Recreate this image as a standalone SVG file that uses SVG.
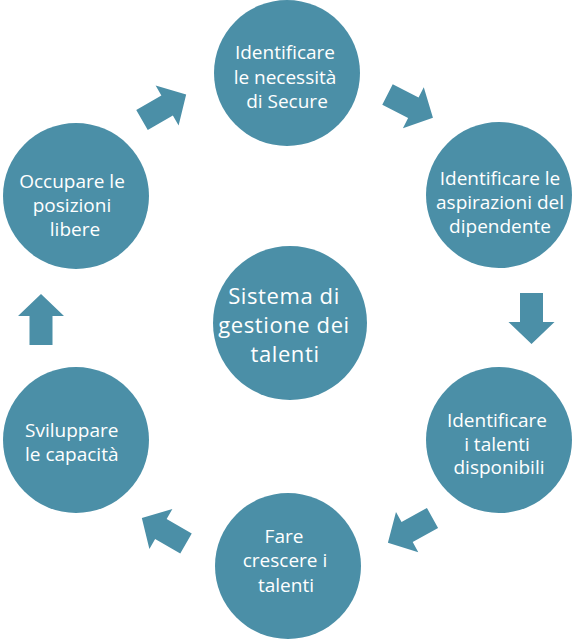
<svg xmlns="http://www.w3.org/2000/svg" width="574" height="639" viewBox="0 0 574 639">
<style>
.c{fill:#4b8fa7}
.t{fill:#ffffff;font-family:"Open Sans","Noto Sans",sans-serif;font-size:19px;text-anchor:middle}
.big{font-size:22px;letter-spacing:0.6px}
.a{fill:#4b8fa7}
</style>
<defs>
<path id="arr" d="M0,-11.5 L29,-11.5 L29,-23 L51,0 L29,23 L29,11.5 L0,11.5 Z"/>
</defs>
<rect width="574" height="639" fill="#ffffff"/>
<g id="connectors" class="a">
<use href="#arr" transform="translate(142,120) rotate(-30)"/>
<use href="#arr" transform="translate(387.5,94.5) rotate(27)"/>
<use href="#arr" transform="translate(531.5,293) rotate(90)"/>
<use href="#arr" transform="translate(432.5,518) rotate(151)"/>
<use href="#arr" transform="translate(186,543.5) rotate(210)"/>
<use href="#arr" transform="translate(41,345) rotate(-90)"/>
</g>
<g id="node-top">
<circle class="c" cx="287" cy="73" r="73"/>
<text class="t"><tspan x="285" y="59">Identificare</tspan><tspan x="285" y="84">le necessità</tspan><tspan x="287" y="108">di Secure</tspan></text>
</g>
<g id="node-right-top">
<circle class="c" cx="499" cy="195" r="73"/>
<text class="t"><tspan x="500" y="185">Identificare le</tspan><tspan x="500" y="209">aspirazioni del</tspan><tspan x="500" y="233">dipendente</tspan></text>
</g>
<g id="node-right-bottom">
<circle class="c" cx="499" cy="440" r="73"/>
<text class="t"><tspan x="497" y="427">Identificare</tspan><tspan x="497" y="450.5">i talenti</tspan><tspan x="499" y="474">disponibili</tspan></text>
</g>
<g id="node-bottom">
<circle class="c" cx="288" cy="566" r="73"/>
<text class="t"><tspan x="284" y="543">Fare</tspan><tspan x="285" y="567">crescere i</tspan><tspan x="286" y="592">talenti</tspan></text>
</g>
<g id="node-left-bottom">
<circle class="c" cx="76" cy="440" r="73"/>
<text class="t" style="text-anchor:start"><tspan x="25" y="437">Sviluppare</tspan><tspan x="25" y="461">le capacità</tspan></text>
</g>
<g id="node-left-top">
<circle class="c" cx="76" cy="196" r="73"/>
<text class="t"><tspan x="72" y="188">Occupare le</tspan><tspan x="72" y="212">posizioni</tspan><tspan x="75" y="236">libere</tspan></text>
</g>
<g id="node-center">
<circle class="c" cx="290" cy="323" r="77"/>
<text class="t big"><tspan x="284" y="304">Sistema di</tspan><tspan x="284" y="333">gestione dei</tspan><tspan x="285" y="362">talenti</tspan></text>
</g>
</svg>
